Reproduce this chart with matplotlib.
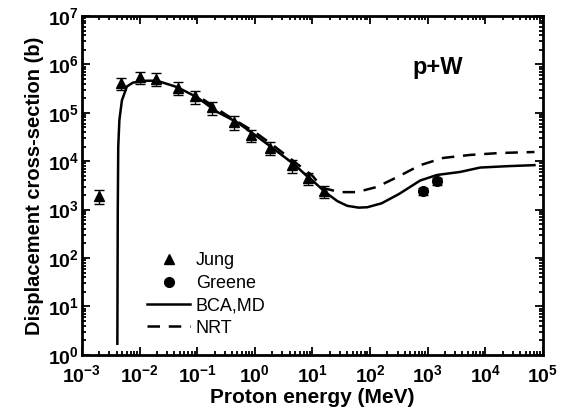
"""Displacement cross-section for p+W vs proton energy."""
import matplotlib
matplotlib.use("Agg")
import matplotlib.pyplot as plt
from matplotlib.lines import Line2D
from matplotlib.ticker import LogLocator, NullFormatter, FuncFormatter
import numpy as np

plt.rcParams['font.family'] = ['Liberation Sans', 'DejaVu Sans']
plt.rcParams['font.weight'] = 'bold'
plt.rcParams['mathtext.fontset'] = 'custom'
plt.rcParams['mathtext.rm'] = 'Liberation Sans:bold'
plt.rcParams['mathtext.it'] = 'Liberation Sans:bold'
plt.rcParams['mathtext.bf'] = 'Liberation Sans:bold'

# Jung (triangles), MeV / barn
jung_e = [2e-3, 4.8e-3, 1e-2, 1.9e-2, 4.6e-2, 9e-2, 0.18, 0.44, 0.85, 1.8, 4.5, 8.4, 16]
jung_s = [1.9e3, 4.1e5, 5.5e5, 5.0e5, 3.3e5, 2.2e5, 1.3e5, 6.5e4, 3.5e4, 1.9e4, 8.3e3, 4.5e3, 2.4e3]
jung_err = [6e2, 1.2e5, 1.6e5, 1.5e5, 1.0e5, 6.5e4, 4e4, 2e4, 1e4, 5.5e3, 2.5e3, 1.3e3, 7e2]

# Greene (circles)
greene_e = [830, 1450]
greene_s = [2.4e3, 3.9e3]
greene_err = [4e2, 6e2]

# BCA,MD (solid)
bca_e = [4.12e-3, 4.19e-3, 4.27e-3, 4.47e-3, 4.94e-3, 6.04e-3, 7.67e-3, 1.34e-2, 2.0e-2,
         4.46e-2, 9.9e-2, 0.22, 0.5, 1.0, 2.0, 5.0, 7.9, 10, 16.6, 27, 40, 63, 89, 158,
         316, 741, 1445, 3630, 8130, 2.4e4, 7.1e4]
bca_s = [1.7, 1e3, 2e4, 7.1e4, 1.8e5, 3.5e5, 4.2e5, 4.6e5, 4.6e5,
         3.4e5, 2.1e5, 1.05e5, 6.3e4, 3.5e4, 1.9e4, 8.3e3, 5.0e3, 4.0e3, 2.3e3, 1.5e3, 1.2e3,
         1.1e3, 1.12e3, 1.35e3, 2.1e3, 4.0e3, 5.2e3, 6.0e3, 7.4e3, 7.9e3, 8.3e3]

# NRT (dashed)
nrt_e = [0.126, 0.316, 1.0, 2.0, 5.0, 10, 15, 30, 59, 132, 295, 741, 1860, 5500, 1.8e4, 7.1e4]
nrt_s = [1.9e5, 9.1e4, 4.0e4, 2.2e4, 9.5e3, 5.0e3, 2.8e3, 2.3e3, 2.3e3, 2.95e3, 4.7e3,
         8.3e3, 1.17e4, 1.35e4, 1.48e4, 1.55e4]


def pow10(v, pos):
    return r'$\mathbf{10^{%d}}$' % int(round(np.log10(v)))


fig = plt.figure(figsize=(5.61, 4.2), dpi=100)
ax = fig.add_axes([0.146, 0.155, 0.822, 0.807])

ax.plot(bca_e, bca_s, color='black', lw=1.8)
ax.plot(nrt_e, nrt_s, color='black', lw=1.8, dashes=(5, 3.5))

ax.errorbar(jung_e, jung_s, yerr=jung_err, fmt='none', ecolor='black', elinewidth=0.9, capsize=3.5)
ax.plot(jung_e, jung_s, '^', color='black', ms=7)
ax.errorbar(greene_e, greene_s, yerr=greene_err, fmt='none', ecolor='black', elinewidth=0.9, capsize=3.5)
ax.plot(greene_e, greene_s, 'o', color='black', ms=7)

ax.set_xscale('log')
ax.set_yscale('log')
ax.set_xlim(1e-3, 1e5)
ax.set_ylim(1e0, 1e7)
ax.xaxis.set_major_locator(LogLocator(base=10, numticks=20))
ax.yaxis.set_major_locator(LogLocator(base=10, numticks=20))
ax.xaxis.set_minor_locator(LogLocator(base=10, subs=range(2, 10), numticks=100))
ax.yaxis.set_minor_locator(LogLocator(base=10, subs=range(2, 10), numticks=100))
ax.xaxis.set_major_formatter(FuncFormatter(pow10))
ax.yaxis.set_major_formatter(FuncFormatter(pow10))
ax.xaxis.set_minor_formatter(NullFormatter())
ax.yaxis.set_minor_formatter(NullFormatter())

ax.tick_params(which='both', direction='in', top=True, right=True, width=1.3, labelsize=14)
ax.tick_params(which='major', length=6)
ax.tick_params(which='minor', length=3)
ax.tick_params(axis='x', pad=7)
ax.tick_params(axis='y', pad=2)
for s in ax.spines.values():
    s.set_linewidth(2)

ax.set_xlabel('Proton energy (MeV)', fontsize=15, fontweight='bold', labelpad=1)
ax.set_ylabel('Displacement cross-section (b)', fontsize=14.5, fontweight='bold', labelpad=3)

ax.text(0.716, 0.829, 'p+W', transform=ax.transAxes, fontsize=17, fontweight='bold',
        va='baseline')

handles = [
    Line2D([], [], ls='none', marker='^', color='black', ms=7),
    Line2D([], [], ls='none', marker='o', color='black', ms=7),
    Line2D([], [], color='black', lw=1.8),
    Line2D([], [], color='black', lw=1.8, dashes=(5, 3.5)),
]
ax.legend(handles, ['Jung', 'Greene', 'BCA,MD', 'NRT'], loc='center left',
          bbox_to_anchor=(0.141, 0.178), frameon=False,
          prop={'size': 13, 'weight': 'normal'},
          handlelength=2.4, handletextpad=0.3, labelspacing=0.3,
          borderpad=0, borderaxespad=0)

fig.savefig('out.png', dpi=100)
